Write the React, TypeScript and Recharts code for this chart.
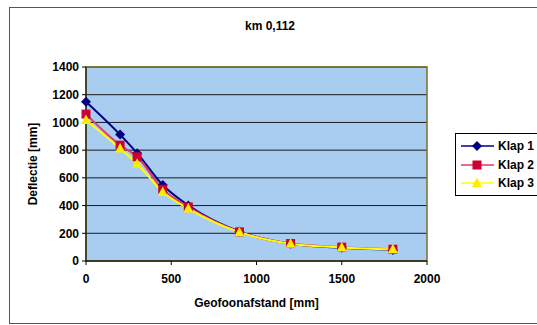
import React from "react";
import {
  LineChart,
  Line,
  XAxis,
  YAxis,
  CartesianGrid,
  ReferenceArea,
} from "recharts";

const afstand = [0, 200, 300, 450, 600, 900, 1200, 1500, 1800];
const klap1 = [1150, 912, 778, 548, 401, 212, 125, 95, 80];
const klap2 = [1060, 836, 752, 518, 390, 210, 126, 100, 85];
const klap3 = [1018, 812, 702, 498, 378, 208, 124, 98, 84];
const xTicks = [0, 500, 1000, 1500, 2000];
const yTicks = [0, 200, 400, 600, 800, 1000, 1200, 1400];

const data = afstand.map((x, i) => ({
  x,
  k1: klap1[i],
  k2: klap2[i],
  k3: klap3[i],
}));

const FONT = "'Liberation Sans', Arial, sans-serif";

const series = [
  { key: "k1", name: "Klap 1", color: "#000080", fill: "#000080", shape: "diamond" },
  { key: "k2", name: "Klap 2", color: "#e8336b", fill: "#cc0033", shape: "square" },
  { key: "k3", name: "Klap 3", color: "#ffff00", fill: "#ffee00", shape: "triangle" },
];

function Marker({ cx, cy, shape, fill }: { cx: number; cy: number; shape: string; fill: string }) {
  if (shape === "diamond") {
    return <path d={`M${cx},${cy - 5}L${cx + 5},${cy}L${cx},${cy + 5}L${cx - 5},${cy}Z`} fill={fill} />;
  }
  if (shape === "square") {
    return <rect x={cx - 4.5} y={cy - 4.5} width={9} height={9} fill={fill} />;
  }
  return <path d={`M${cx},${cy - 5.5}L${cx + 5},${cy + 4}L${cx - 5},${cy + 4}Z`} fill={fill} />;
}

function makeDot(shape: string, fill: string) {
  return (props: any) => {
    const { cx, cy, index } = props;
    if (cx == null || cy == null) return <g key={`e-${index}`} />;
    return (
      <g key={`${shape}-${index}`}>
        <Marker cx={cx} cy={cy} shape={shape} fill={fill} />
      </g>
    );
  };
}

function LegendBox() {
  return (
    <div
      style={{
        position: "absolute",
        left: 455,
        top: 133,
        border: "1px solid #000",
        background: "#fff",
        width: 90,
        height: 63,
        boxSizing: "border-box",
        paddingTop: 3,
      }}
    >
      {series.map((s) => (
        <div key={s.key} style={{ display: "flex", alignItems: "center", height: 18.5 }}>
          <svg width={42} height={12}>
            <line x1={5} y1={6} x2={38} y2={6} stroke={s.color} strokeWidth={1.5} />
            <Marker cx={21} cy={6} shape={s.shape} fill={s.fill} />
          </svg>
          <span style={{ fontFamily: FONT, fontWeight: 700, fontSize: 12, color: "#000" }}>
            {s.name}
          </span>
        </div>
      ))}
    </div>
  );
}

export default function App() {
  return (
    <div
      style={{
        position: "absolute",
        left: 0,
        top: 0,
        width: 537,
        height: 325,
        background: "#fff",
        overflow: "hidden",
      }}
    >
      <div
        style={{
          position: "absolute",
          left: 9,
          top: 7,
          width: 540,
          height: 317,
          border: "1.5px solid #555",
          boxSizing: "border-box",
        }}
      />
      <div
        style={{
          position: "absolute",
          left: 0,
          top: 19,
          width: 540,
          textAlign: "center",
          fontFamily: FONT,
          fontWeight: 700,
          fontSize: 12,
          color: "#000",
        }}
      >
        km 0,112
      </div>
      <LineChart
        width={537}
        height={325}
        data={data}
        margin={{ top: 67, right: 110, bottom: 34, left: 0 }}
        style={{ position: "absolute", left: 0, top: 0 }}
      >
        <CartesianGrid horizontal vertical={false} fill="#a9cdf0" stroke="#1a1a1a" strokeWidth={1} />
        <ReferenceArea x1={0} x2={2000} y1={0} y2={1400} fill="none" stroke="#7a7420" strokeWidth={1.5} />
        <XAxis
          dataKey="x"
          type="number"
          domain={[0, 2000]}
          ticks={xTicks}
          interval={0}
          height={30}
          tickSize={4}
          tickMargin={9}
          stroke="#000"
          tick={{ fill: "#000", fontSize: 12, fontWeight: 700, fontFamily: FONT }}
          label={{
            value: "Geofoonafstand [mm]",
            position: "bottom",
            offset: 7,
            style: { fill: "#000", fontSize: 12, fontWeight: 700, fontFamily: FONT },
          }}
        />
        <YAxis
          type="number"
          domain={[0, 1400]}
          ticks={yTicks}
          interval={0}
          width={86}
          tickSize={4}
          tickMargin={3}
          stroke="#000"
          tick={{ fill: "#000", fontSize: 12, fontWeight: 700, fontFamily: FONT }}
          label={{
            value: "Deflectie [mm]",
            angle: -90,
            position: "insideLeft",
            offset: 33,
            style: { textAnchor: "middle", fill: "#000", fontSize: 12, fontWeight: 700, fontFamily: FONT },
          }}
        />
        {series.map((s) => (
          <Line
            key={s.key}
            type="monotone"
            dataKey={s.key}
            name={s.name}
            stroke={s.color}
            strokeWidth={2}
            dot={makeDot(s.shape, s.fill)}
            activeDot={false}
            isAnimationActive={false}
          />
        ))}
      </LineChart>
      <LegendBox />
    </div>
  );
}
